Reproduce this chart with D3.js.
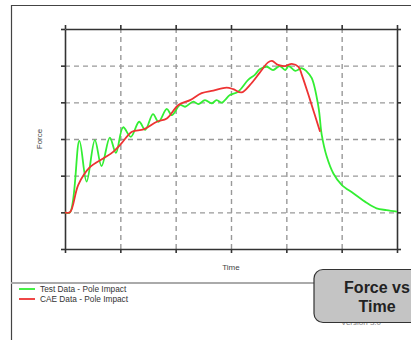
<!DOCTYPE html>
<html>
<head>
<meta charset="utf-8">
<script src="https://cdn.jsdelivr.net/npm/d3@7"></script>
<style>
  body { margin: 0; background: #fff; }
  svg { display: block; font-family: "Liberation Sans", Arial, sans-serif; }
</style>
</head>
<body>
<div id="chart"></div>
<script>
// Test data (green) - [time, force] in grid units
const testTime = [0, 0.09, 0.26, 0.39, 0.54, 0.66, 0.81, 0.92, 1.05, 1.19, 1.34, 1.45, 1.59, 1.69, 1.84, 1.93,
  2.08, 2.17, 2.32, 2.41, 2.53, 2.65, 2.74, 2.83, 2.89, 2.98, 3.13, 3.31, 3.43, 3.52, 3.65, 3.76, 3.88, 3.98,
  4.04, 4.16, 4.28, 4.37, 4.46, 4.58, 4.64, 4.73, 4.85, 5.0, 5.21, 5.45, 5.63, 5.81, 6.0];
const testForce = [1.0, 1.0, 2.95, 1.84, 2.97, 2.26, 3.04, 2.62, 3.32, 3.06, 3.47, 3.25, 3.68, 3.47, 3.82, 3.65,
  3.93, 3.88, 4.02, 3.95, 4.06, 3.97, 4.06, 3.99, 4.06, 4.2, 4.29, 4.61, 4.75, 4.9, 4.97, 4.88, 4.99, 4.88,
  4.99, 4.86, 4.93, 4.84, 4.66, 3.88, 3.11, 2.52, 2.06, 1.75, 1.52, 1.26, 1.11, 1.06, 1.02];

// CAE data (red)
const caeTime = [0, 0.09, 0.24, 0.45, 0.69, 0.87, 1.02, 1.21, 1.42, 1.66, 1.84, 2.05, 2.26, 2.47, 2.68, 2.92,
  3.04, 3.19, 3.34, 3.52, 3.67, 3.74, 3.85, 3.98, 4.1, 4.22, 4.28, 4.43, 4.61];
const caeForce = [1.0, 1.0, 1.75, 2.23, 2.47, 2.65, 2.88, 3.2, 3.26, 3.47, 3.56, 3.93, 4.06, 4.25, 4.32, 4.4,
  4.36, 4.27, 4.47, 4.81, 5.09, 5.13, 5.02, 4.99, 5.05, 4.97, 4.75, 4.06, 3.2];

const gridTicks = [0, 1, 2, 3, 4, 5, 6];
const legendLabels = ["Test Data - Pole Impact", "CAE Data - Pole Impact"];
const seriesColors = ["#33ee33", "#ee3333"];
const boxTitle = ["Force vs", "Time"];

const W = 411, H = 340;
const margin = { top: 29, left: 65, right: 14, bottom: 91 };
const width = W - margin.left - margin.right;
const height = H - margin.top - margin.bottom;

const svg = d3.select("#chart").append("svg")
  .attr("width", W)
  .attr("height", H);

// --- outer frame ---
svg.append("path")
  .attr("d", `M11.5,${H} V5.5 H${W}`)
  .attr("fill", "none")
  .attr("stroke", "#444")
  .attr("stroke-width", 1.2);

const g = svg.append("g")
  .attr("transform", `translate(${margin.left}, ${margin.top})`);

// --- scales ---
const x = d3.scaleLinear().domain([0, 6]).range([0, width]);
const y = d3.scaleLinear().domain([0, 6]).range([height, 0]);

// --- grid ---
g.append("g")
  .attr("class", "grid")
  .attr("transform", `translate(0, ${height})`)
  .call(d3.axisBottom(x).tickValues(gridTicks.slice(1, -1)).tickSize(-height).tickFormat(""))
  .call(s => s.select(".domain").remove());

g.append("g")
  .attr("class", "grid")
  .call(d3.axisLeft(y).tickValues(gridTicks.slice(1, -1)).tickSize(-width).tickFormat(""))
  .call(s => s.select(".domain").remove());

g.selectAll(".grid line")
  .attr("stroke", "#999")
  .attr("stroke-width", 1.4)
  .attr("stroke-dasharray", "5,4");

// --- axes (no labels, outward ticks on all four sides) ---
const axes = [
  [d3.axisLeft(y), 0, 0],
  [d3.axisRight(y), width, 0],
  [d3.axisTop(x), 0, 0],
  [d3.axisBottom(x), 0, height]
];
axes.forEach(([ax, tx, ty]) => {
  g.append("g")
    .attr("class", "frame-axis")
    .attr("transform", `translate(${tx}, ${ty})`)
    .call(ax.tickValues(gridTicks).tickSizeInner(4).tickSizeOuter(0).tickFormat(""));
});
g.selectAll(".frame-axis .domain").attr("stroke", "#333").attr("stroke-width", 1.6);
g.selectAll(".frame-axis line").attr("stroke", "#333").attr("stroke-width", 1.6);

// --- lines ---
const line = d3.line()
  .x(d => x(d[0]))
  .y(d => y(d[1]))
  .curve(d3.curveCatmullRom.alpha(0.5));

const testData = testTime.map((t, i) => [t, testForce[i]]);
const caeData = caeTime.map((t, i) => [t, caeForce[i]]);

g.append("path")
  .datum(testData)
  .attr("fill", "none")
  .attr("stroke", seriesColors[0])
  .attr("stroke-width", 1.8)
  .attr("d", line);

g.append("path")
  .datum(caeData)
  .attr("fill", "none")
  .attr("stroke", seriesColors[1])
  .attr("stroke-width", 1.8)
  .attr("d", line);

// --- axis titles ---
svg.append("text")
  .attr("transform", `translate(42, ${margin.top + y(3)}) rotate(-90)`)
  .attr("text-anchor", "middle")
  .attr("font-size", 8)
  .attr("fill", "#444")
  .text("Force");

svg.append("text")
  .attr("x", margin.left + x(3))
  .attr("y", 270)
  .attr("text-anchor", "middle")
  .attr("font-size", 8)
  .attr("fill", "#444")
  .text("Time");

// --- separator ---
svg.append("line")
  .attr("x1", 11).attr("x2", 320)
  .attr("y1", 283).attr("y2", 283)
  .attr("stroke", "#aaa")
  .attr("stroke-width", 2);

// --- legend ---
const legend = svg.append("g").attr("transform", "translate(19, 289)");
legendLabels.forEach((lab, i) => {
  const row = legend.append("g").attr("transform", `translate(0, ${i * 10})`);
  row.append("line")
    .attr("x1", 0).attr("x2", 16)
    .attr("stroke", seriesColors[i])
    .attr("stroke-width", 1.8);
  row.append("text")
    .attr("x", 21)
    .attr("y", 3)
    .attr("font-size", 8.3)
    .attr("fill", "#333")
    .text(lab);
});

// faint text mostly hidden behind the title box
svg.append("text")
  .attr("x", 341)
  .attr("y", 324.5)
  .attr("font-size", 8)
  .attr("fill", "#888")
  .text("Version 3.0");

// --- title box ---
svg.append("rect")
  .attr("x", 314).attr("y", 269.5)
  .attr("width", 110).attr("height", 53)
  .attr("rx", 9)
  .attr("fill", "#c4c4c4")
  .attr("stroke", "#333")
  .attr("stroke-width", 1.2);

boxTitle.forEach((t, i) => {
  svg.append("text")
    .attr("x", 377)
    .attr("y", 293 + i * 18.5)
    .attr("text-anchor", "middle")
    .attr("font-size", 16)
    .attr("font-weight", "bold")
    .attr("fill", "#222")
    .text(t);
});
</script>
</body>
</html>
